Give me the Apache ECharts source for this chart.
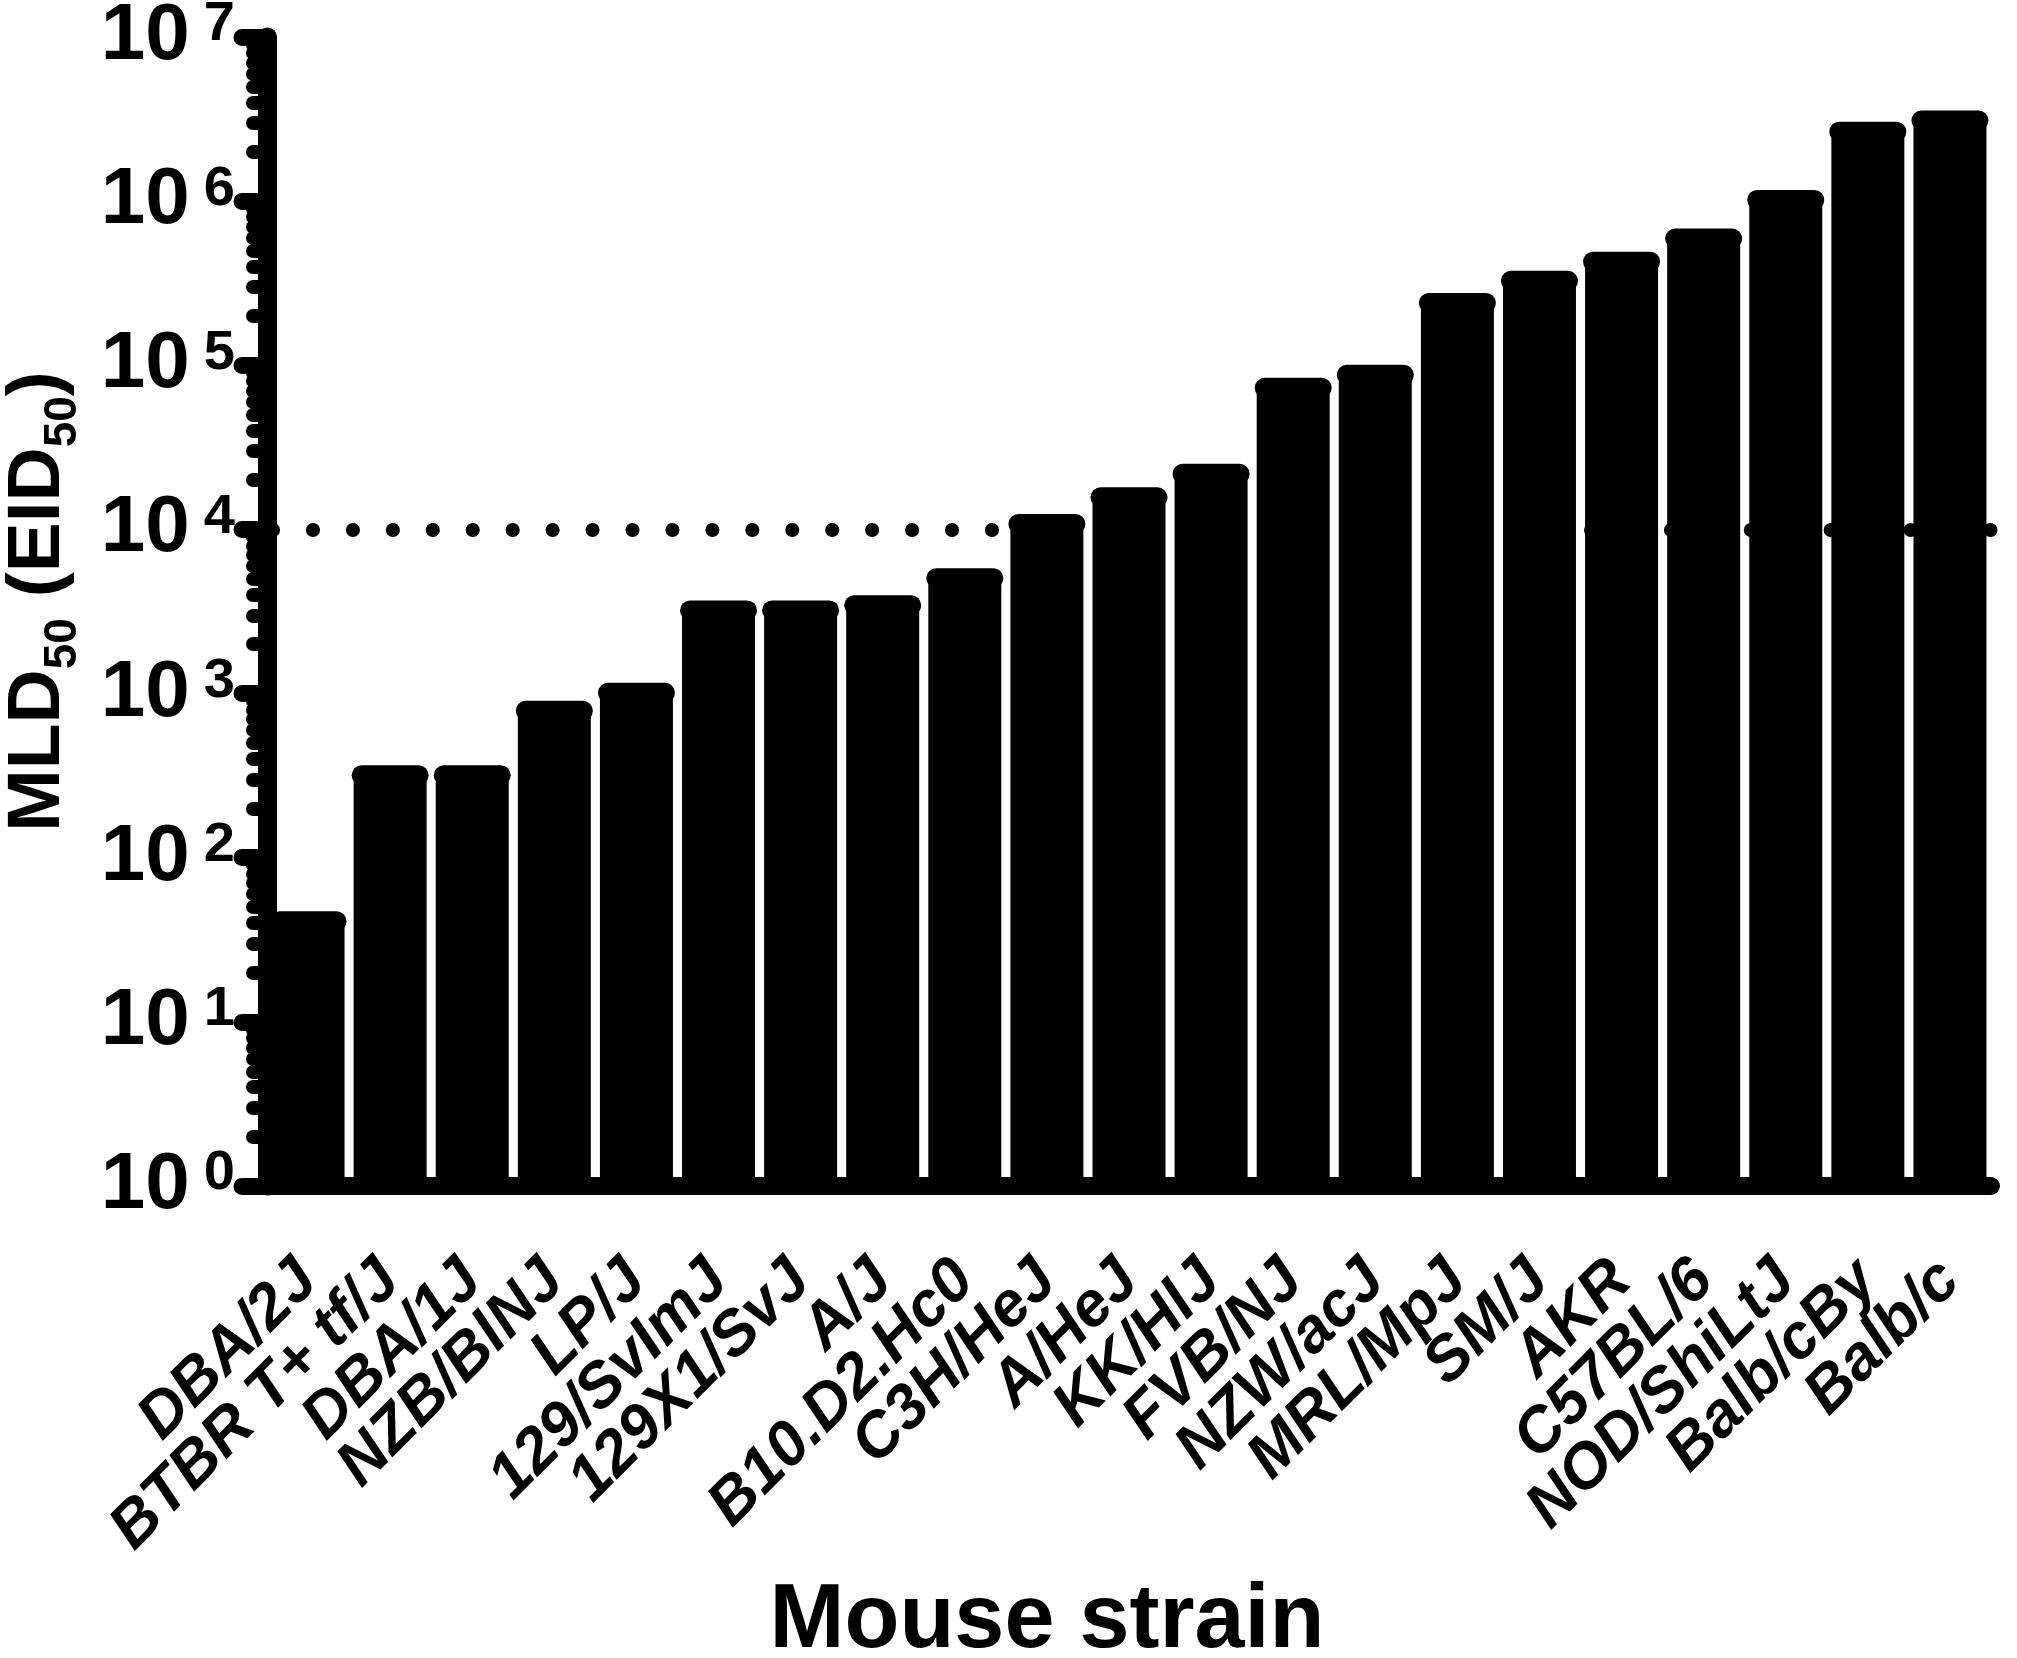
<!DOCTYPE html>
<html><head><meta charset="utf-8">
<script src="https://cdn.jsdelivr.net/npm/echarts@6/dist/echarts.min.js"></script>
<style>html,body{margin:0;padding:0;background:#fff}#c{width:2017px;height:1658px}</style>
</head><body><div id="c"></div>
<script>
const categories = ['DBA/2J','BTBR T+ tf/J','DBA/1J','NZB/BlNJ','LP/J','129/SvImJ','129X1/SvJ','A/J','B10.D2.Hc0','C3H/HeJ','A/HeJ','KK/HlJ','FVB/NJ','NZW/acJ','MRL/MpJ','SM/J','AKR','C57BL/6','NOD/ShiLtJ','Balb/cBy','Balb/c'];
const mld50 = [41, 318, 318, 785, 1010, 3210, 3210, 3450, 5050, 10800, 15700, 21800, 73000, 87500, 240000, 327000, 428000, 592000, 1017000, 2650000, 3100000];
const majorTicks = [1, 10, 100, 1000, 10000, 100000, 1000000, 10000000];
const minorMultipliers = [2, 3, 4, 5, 6, 7, 8, 9];
const thresholdValue = 10000;
const yTitle = '{m|MLD}{s|50}{m| (EID}{s|50}{m|)}';
const xTitle = 'Mouse strain';

const minorTicks = [];
majorTicks.slice(0, -1).forEach(d => minorMultipliers.forEach(k => minorTicks.push(d * k)));

const FF = '"Liberation Sans", Arial, sans-serif';
const chart = echarts.init(document.getElementById('c'), null, {renderer: 'canvas'});
chart.setOption({
  backgroundColor: '#fff',
  animation: false,
  title: {
    text: xTitle, left: 1042, top: 1572, textAlign: 'center',
    textStyle: {fontFamily: FF, fontWeight: 'bold', fontSize: 90, color: '#000'}
  },
  grid: {left: 267, right: 26, top: 37, bottom: 472, containLabel: false, outerBoundsMode: 'none'},
  xAxis: {
    type: 'category', data: categories,
    axisLine: {lineStyle: {color: '#000', width: 18, cap: 'round'}},
    axisTick: {alignWithLabel: true, interval: 0, length: 25, lineStyle: {color: '#000', width: 17, cap: 'round'}},
    axisLabel: {interval: 0, rotate: 45, margin: 85, color: '#000', fontFamily: FF, fontWeight: 'bold', fontStyle: 'italic', fontSize: 63, hideOverlap: false},
    splitLine: {show: false}
  },
  yAxis: [{
    type: 'log', logBase: 10, min: 1, max: 10000000,
    name: yTitle, nameLocation: 'middle', nameRotate: 90, nameGap: 189,
    nameTextStyle: {
      color: '#000', padding: [0, 0, 0, 20],
      rich: {
        m: {fontFamily: FF, fontWeight: 'bold', fontSize: 75, lineHeight: 80, verticalAlign: 'middle'},
        s: {fontFamily: FF, fontWeight: 'bold', fontSize: 46, lineHeight: 80, verticalAlign: 'bottom', padding: [0,0,-8,0]}
      }
    },
    axisLine: {show: true, lineStyle: {color: '#000', width: 19, cap: 'round'}},
    axisTick: {show: true, customValues: majorTicks, length: 25, lineStyle: {color: '#000', width: 17, cap: 'round'}},
    axisLabel: {
      customValues: majorTicks, margin: 32, fontSize: 80, fontFamily: FF, fontWeight: 'bold', color: '#000',
      formatter: v => '{b|10}{s|' + Math.round(Math.log10(v)) + '}',
      rich: {
        b: {fontFamily: FF, fontWeight: 'bold', fontSize: 80, lineHeight: 80, color: '#000'},
        s: {fontFamily: FF, fontWeight: 'bold', fontSize: 56, lineHeight: 56, verticalAlign: 'top', padding: [0,0,0,14], color: '#000'}
      }
    },
    splitLine: {show: false}, minorTick: {show: false}
  }, {
    type: 'log', logBase: 10, min: 1, max: 10000000, position: 'left',
    axisLine: {show: false},
    axisTick: {show: true, customValues: minorTicks, length: 14, lineStyle: {color: '#000', width: 14, cap: 'round'}},
    axisLabel: {show: false}, splitLine: {show: false}
  }],
  series: [{
    type: 'bar', data: mld50, barWidth: 73, yAxisIndex: 0,
    itemStyle: {color: '#000'},
    markLine: {
      silent: true, symbol: ['none', 'none'], label: {show: false},
      lineStyle: {color: '#000', width: 14, type: [0.1, 39.84], dashOffset: 33.94, cap: 'round', opacity: 1},
      data: [{yAxis: thresholdValue}]
    }
  }, {
    type: 'scatter', data: mld50, yAxisIndex: 0, z: 3,
    symbol: 'path://M10,0 H67 A10,10 0 0 1 67,20 H10 A10,10 0 0 1 10,0 Z',
    symbolSize: [77, 20], itemStyle: {color: '#000', opacity: 1}
  }]
});
</script></body></html>
